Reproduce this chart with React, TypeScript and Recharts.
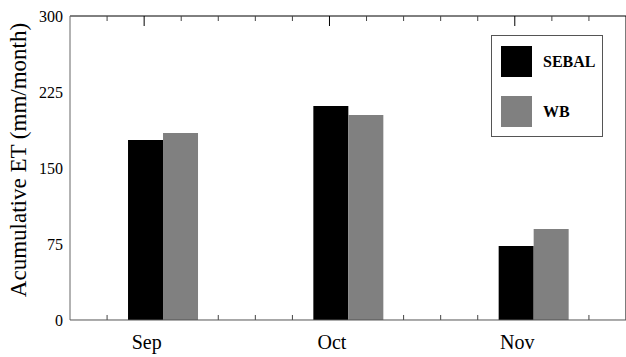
import React from 'react';
import { BarChart, Bar, XAxis, YAxis, Legend } from 'recharts';

const months = ['Sep', 'Oct', 'Nov'];
const sebal = [177.6, 211.2, 73];
const wb = [184.5, 202.3, 89.8];
const yTicks = [0, 75, 150, 225, 300];
const yFrameTicks = [37.5, 75, 112.5, 150, 187.5, 225, 262.5];
const yFrameMajor = [75, 150, 225];
// frame ticks along x, on a 0..15 grid
const topFrameTicks = [1, 2, 3, 4, 5, 6, 7, 8, 9, 10, 11, 12, 13, 14];
const xFrameMajor = [2, 7, 12];
const bottomMinorTicks = [1, 4, 5, 6, 9, 10, 11, 14];

const data = months.map((m, i) => ({ month: m, SEBAL: sebal[i], WB: wb[i] }));

const FONT = "'Liberation Serif', 'Times New Roman', serif";
// axes need a non-zero size to render; keep it negligible so they all sit on the frame
const THIN = 0.01;
const noLabel = () => '';
const frameKey = () => 0;

// inward frame tick drawn by the axis' own tick renderer
const frameTick = (side: 'left' | 'right' | 'top', majors: number[], majorLen: number, minorLen: number) =>
  (props: any) => {
    const { x, y, payload } = props;
    const major = majors.includes(payload.value);
    const len = major ? majorLen : minorLen;
    const color = major ? '#000' : '#444';
    if (side === 'left') return <line x1={x} y1={y} x2={x + len} y2={y} stroke={color} />;
    if (side === 'right') return <line x1={x - len} y1={y} x2={x} y2={y} stroke={color} />;
    return <line x1={x} y1={y} x2={x} y2={y + len} stroke={color} />;
  };

const MonthTick = (props: any) => {
  const { x, y, payload } = props;
  return (
    <text x={x - 16} y={y} dy={21} textAnchor="middle" fontSize={20} fill="#000" fontFamily={FONT}>
      {payload.value}
    </text>
  );
};

const YTitle = (props: any) => {
  const { viewBox } = props;
  const cx = viewBox.x - 52;
  const cy = viewBox.y + viewBox.height / 2 - 8;
  return (
    <text
      x={cx}
      y={cy}
      transform={`rotate(-90 ${cx} ${cy})`}
      textAnchor="middle"
      dominantBaseline="central"
      fontSize={23}
      fill="#000"
      fontFamily={FONT}
    >
      Acumulative ET (mm/month)
    </text>
  );
};

const LegendBox = (props: any) => {
  const { payload } = props;
  return (
    <div
      style={{
        position: 'relative',
        width: 110,
        height: 100,
        border: '1.5px solid #555',
        background: '#fff',
        fontFamily: FONT,
      }}
    >
      {(payload || []).map((entry: any, i: number) => (
        <div key={entry.value} style={{ position: 'absolute', left: 9, top: 10 + i * 50, display: 'flex', alignItems: 'center' }}>
          <div style={{ width: 31, height: 31, background: entry.color }} />
          <span style={{ marginLeft: 11, fontSize: 16, fontWeight: 'bold', color: '#000' }}>{entry.value}</span>
        </div>
      ))}
    </div>
  );
};

export default function App() {
  return (
    <div style={{ position: 'absolute', left: 0, top: 0, width: 626, height: 357, background: '#fff' }}>
      <BarChart
        width={626}
        height={357}
        data={data}
        margin={{ top: 16, right: 0, left: 70, bottom: 37 }}
        barGap={0}
        barSize={35}
        style={{ fontFamily: FONT }}
      >
        {/* top frame line with inward ticks */}
        <XAxis xAxisId="top" orientation="top" type="number" dataKey={frameKey} domain={[0, 15]} allowDataOverflow
          ticks={topFrameTicks} height={THIN} tickSize={0} tickMargin={0} tickLine={false} interval={0}
          axisLine={{ stroke: '#000' }} tick={frameTick('top', xFrameMajor, 10, 5)} />
        {/* bottom frame ticks, drawn only where no bar covers them */}
        <XAxis xAxisId="grid" orientation="bottom" type="number" dataKey={frameKey} domain={[0, 15]} allowDataOverflow
          ticks={bottomMinorTicks} height={THIN} mirror tickSize={5} interval={0} tickFormatter={noLabel}
          axisLine={false} tickLine={{ stroke: '#444' }} />
        {/* left and right frame ticks */}
        <YAxis yAxisId="leftFrame" domain={[0, 300]} ticks={yFrameTicks} width={THIN} tickSize={0} tickMargin={0}
          tickLine={false} axisLine={false} interval={0} tick={frameTick('left', yFrameMajor, 10, 5)} />
        <YAxis yAxisId="rightFrame" orientation="right" domain={[0, 300]} ticks={yFrameTicks} width={THIN} tickSize={0}
          tickMargin={0} tickLine={false} axisLine={{ stroke: '#000' }} interval={0} tick={frameTick('right', yFrameMajor, 8, 4)} />
        <YAxis
          yAxisId="main"
          domain={[0, 300]}
          ticks={yTicks}
          width={THIN}
          tickSize={0}
          tickMargin={7}
          interval={0}
          tickLine={false}
          axisLine={{ stroke: '#666' }}
          tick={{ fontSize: 16, fill: '#000', fontFamily: FONT }}
          label={{ content: YTitle }}
        />
        <XAxis
          xAxisId="cat"
          dataKey="month"
          height={THIN}
          tickLine={false}
          axisLine={{ stroke: '#555' }}
          tick={<MonthTick />}
          interval={0}
        />
        <Legend
          layout="vertical"
          align="center"
          verticalAlign="middle"
          content={<LegendBox />}
          wrapperStyle={{ position: 'absolute', left: 491, top: 35, width: 113, height: 103 }}
        />
        <Bar xAxisId="cat" yAxisId="main" dataKey="SEBAL" name="SEBAL" fill="#000" isAnimationActive={false} />
        <Bar xAxisId="cat" yAxisId="main" dataKey="WB" name="WB" fill="#808080" isAnimationActive={false} />
      </BarChart>
    </div>
  );
}
